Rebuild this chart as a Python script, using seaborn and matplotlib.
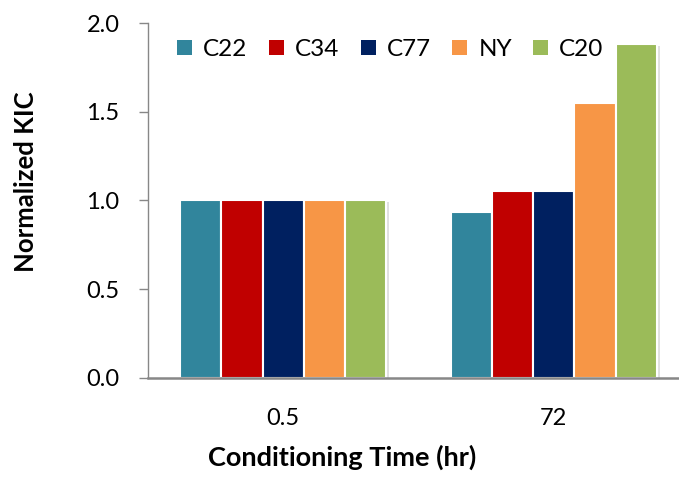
import matplotlib
matplotlib.use("Agg")
import matplotlib.pyplot as plt
import matplotlib.patheffects as pe
from matplotlib.patches import Patch
import seaborn as sns
import pandas as pd

# Data
times = ["0.5", "72"]
mixes = ["C22", "C34", "C77", "NY", "C20"]
kic_05 = [1.00, 1.00, 1.00, 1.00, 1.00]
kic_72 = [0.935, 1.055, 1.055, 1.548, 1.88]
colors = ["#31859C", "#C00000", "#002060", "#F79646", "#9BBB59"]

rows = []
for t, vals in zip(times, [kic_05, kic_72]):
    for m, v in zip(mixes, vals):
        rows.append({"time": t, "mix": m, "kic": v})
df = pd.DataFrame(rows)

sns.set_style("white")
plt.rcParams["font.family"] = ["Lato", "DejaVu Sans"]
plt.rcParams["text.color"] = "black"
plt.rcParams["xtick.color"] = "black"
plt.rcParams["ytick.color"] = "black"
plt.rcParams["axes.labelcolor"] = "black"

fig = plt.figure(figsize=(6.79, 4.78), dpi=100)
ax = fig.add_axes([148 / 679, 100.3 / 478, 541 / 679, 354.7 / 478])

sns.barplot(data=df, x="time", y="kic", hue="mix", order=times, hue_order=mixes,
            palette=colors, width=0.763, edgecolor="white", linewidth=1.5,
            saturation=1, legend=False, ax=ax)

for bar in ax.patches:
    bar.set_path_effects([pe.SimplePatchShadow(offset=(2, -1.5), shadow_rgbFace="#000000", alpha=0.12),
                          pe.Normal()])

ax.set_xlim(-0.5, 1.5)
ax.set_ylim(0, 2.0)
ax.set_yticks([0, 0.5, 1.0, 1.5, 2.0])
ax.set_yticklabels(["0.0", "0.5", "1.0", "1.5", "2.0"])

for side in ["top", "right"]:
    ax.spines[side].set_visible(False)
ax.spines["left"].set_color("#878787")
ax.spines["left"].set_linewidth(1.0)
ax.spines["bottom"].set_color("#878787")
ax.spines["bottom"].set_linewidth(1.8)

ax.tick_params(axis="y", direction="out", length=6.5, width=1.0, color="#878787",
               labelcolor="black", labelsize=17, pad=14, left=True)
ax.tick_params(axis="x", length=0, labelcolor="black", labelsize=17, pad=22)

ax.set_xlabel("Conditioning Time (hr)", fontsize=19.5, fontweight="bold")
ax.set_ylabel("Normalized KIC", fontsize=18.5, fontweight="bold")
ax.xaxis.set_label_coords(0.359, -0.19)
ax.yaxis.set_label_coords(-0.203, 0.553)

handles = [Patch(facecolor=c, edgecolor="none") for c in colors]
ax.legend(handles, mixes, ncol=5, loc="center left", bbox_to_anchor=(0.036, 0.925),
          frameon=False, fontsize=17.5, handlelength=0.62, handleheight=0.62,
          handletextpad=0.45, columnspacing=0.88, borderaxespad=0)

fig.savefig("out.png", dpi=100)
